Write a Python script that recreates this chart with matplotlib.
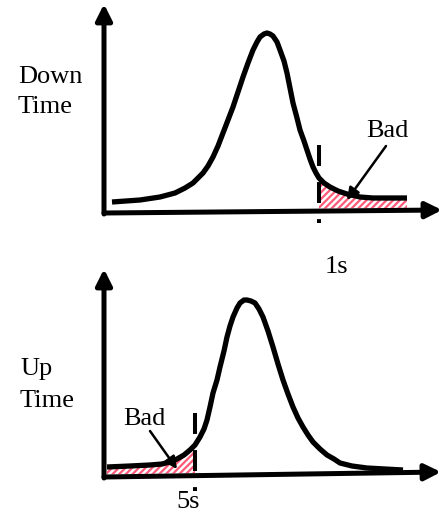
import numpy as np
import matplotlib
matplotlib.use("Agg")
import matplotlib.pyplot as plt

# Schematic drawn in pixel units of the 443x515 canvas (y grows downward)
W, H = 443, 515

# top panel: down-time distribution, long tail past the 1s cut is "Bad"
down_x = [112, 140, 160, 175, 185, 193, 198, 203, 208, 213, 218, 223, 228, 233,
          238, 243, 248, 253, 257, 260, 264, 267, 270, 273, 277, 280, 284, 287,
          290, 293, 297, 300, 304, 307, 310, 313, 316, 319, 324, 330, 338, 347,
          360, 373, 390, 407]
down_y = [202, 200, 197, 193, 188, 183, 178, 173, 166, 157, 146, 133, 120, 107,
          92, 77, 63, 50, 42, 37, 34, 33, 34, 36, 42, 50, 61, 73, 88, 103, 118,
          130, 141, 150, 159, 167, 173, 178, 183, 187, 191, 194, 197, 198, 198, 198]
down_cut = 319
down_label = ["Down", "Time"]
down_cut_label = "1s"

# bottom panel: up-time distribution, short head before the 5s cut is "Bad"
up_x = [107, 130, 150, 162, 170, 177, 184, 190, 195, 200, 204, 207, 210, 213,
        217, 220, 224, 227, 230, 233, 237, 240, 244, 247, 251, 255, 259, 263,
        268, 273, 278, 283, 288, 293, 298, 303, 308, 313, 320, 327, 334, 340,
        352, 367, 385, 403]
up_y = [467, 466, 465, 464, 462, 459, 455, 450, 445, 437, 429, 420, 407, 393,
        380, 367, 351, 337, 326, 317, 308, 303, 300, 300, 301, 303, 309, 317,
        331, 347, 364, 380, 394, 407, 418, 427, 435, 442, 449, 455, 459, 463,
        466, 468, 469, 470]
up_cut = 195
up_label = ["Up", "Time"]
up_cut_label = "5s"

bad_label = "Bad"
hatch_red = "#ff5a78"

plt.rcParams['font.family'] = ['Liberation Serif', 'DejaVu Serif']
plt.rcParams['hatch.linewidth'] = 1.6

fig = plt.figure(figsize=(W / 100, H / 100), dpi=100)
ax = fig.add_axes([0, 0, 1, 1])
ax.set_xlim(0, W)
ax.set_ylim(H, 0)
ax.axis("off")


def axis_arrow(start, tip):
    ax.annotate("", xy=tip, xytext=start,
                arrowprops=dict(arrowstyle="-|>", lw=3.6, color="black",
                                mutation_scale=24, shrinkA=0, shrinkB=0))


def panel(xs, ys, cut, origin, x_tip, y_tip, dash_span, bad_right):
    xs = np.array(xs)
    ys = np.array(ys)
    ox, oy = origin
    # x axis is slightly tilted in the original drawing
    base = oy + (x_tip[1] - oy) * (xs - ox) / (x_tip[0] - ox)
    sel = xs >= cut if bad_right else xs <= cut
    ax.fill_between(xs[sel], ys[sel], base[sel] - 2.5, facecolor="white",
                    edgecolor=hatch_red, hatch="/////", lw=0, zorder=1)
    ax.plot(xs, ys, color="black", lw=3.8, solid_capstyle="butt",
            solid_joinstyle="round", zorder=3)
    axis_arrow((ox, oy), x_tip)
    axis_arrow((ox, oy + 1), y_tip)
    ax.plot([cut, cut], dash_span, color="black", lw=2.9,
            linestyle=(0, (5.2, 4.0)), dash_capstyle="butt", zorder=4)


panel(down_x, down_y, down_cut, (104, 213), (442, 210), (104, 4), (145, 223), True)
panel(up_x, up_y, up_cut, (104, 477), (441, 472), (104, 269), (413, 491), False)

fs = 19
ax.text(18, 83, down_label[0], fontsize=fs, va="baseline")
ax.text(18, 113, down_label[1], fontsize=fs, va="baseline")
ax.text(20, 375, up_label[0], fontsize=fs, va="baseline")
ax.text(20, 407, up_label[1], fontsize=fs, va="baseline")
ax.text(336, 273, down_cut_label, fontsize=fs, va="baseline", ha="center")
ax.text(188, 508, up_cut_label, fontsize=fs, va="baseline", ha="center")

ax.text(387, 137, bad_label, fontsize=fs, va="baseline", ha="center")
ax.annotate("", xy=(347, 200), xytext=(386, 146),
            arrowprops=dict(arrowstyle="-|>", lw=1.8, color="black",
                            mutation_scale=18, shrinkA=0, shrinkB=0), zorder=5)
ax.text(144, 425, bad_label, fontsize=fs, va="baseline", ha="center")
ax.annotate("", xy=(177, 469), xytext=(150, 431),
            arrowprops=dict(arrowstyle="-|>", lw=1.8, color="black",
                            mutation_scale=18, shrinkA=0, shrinkB=0), zorder=5)

fig.savefig("out.png", dpi=100)
